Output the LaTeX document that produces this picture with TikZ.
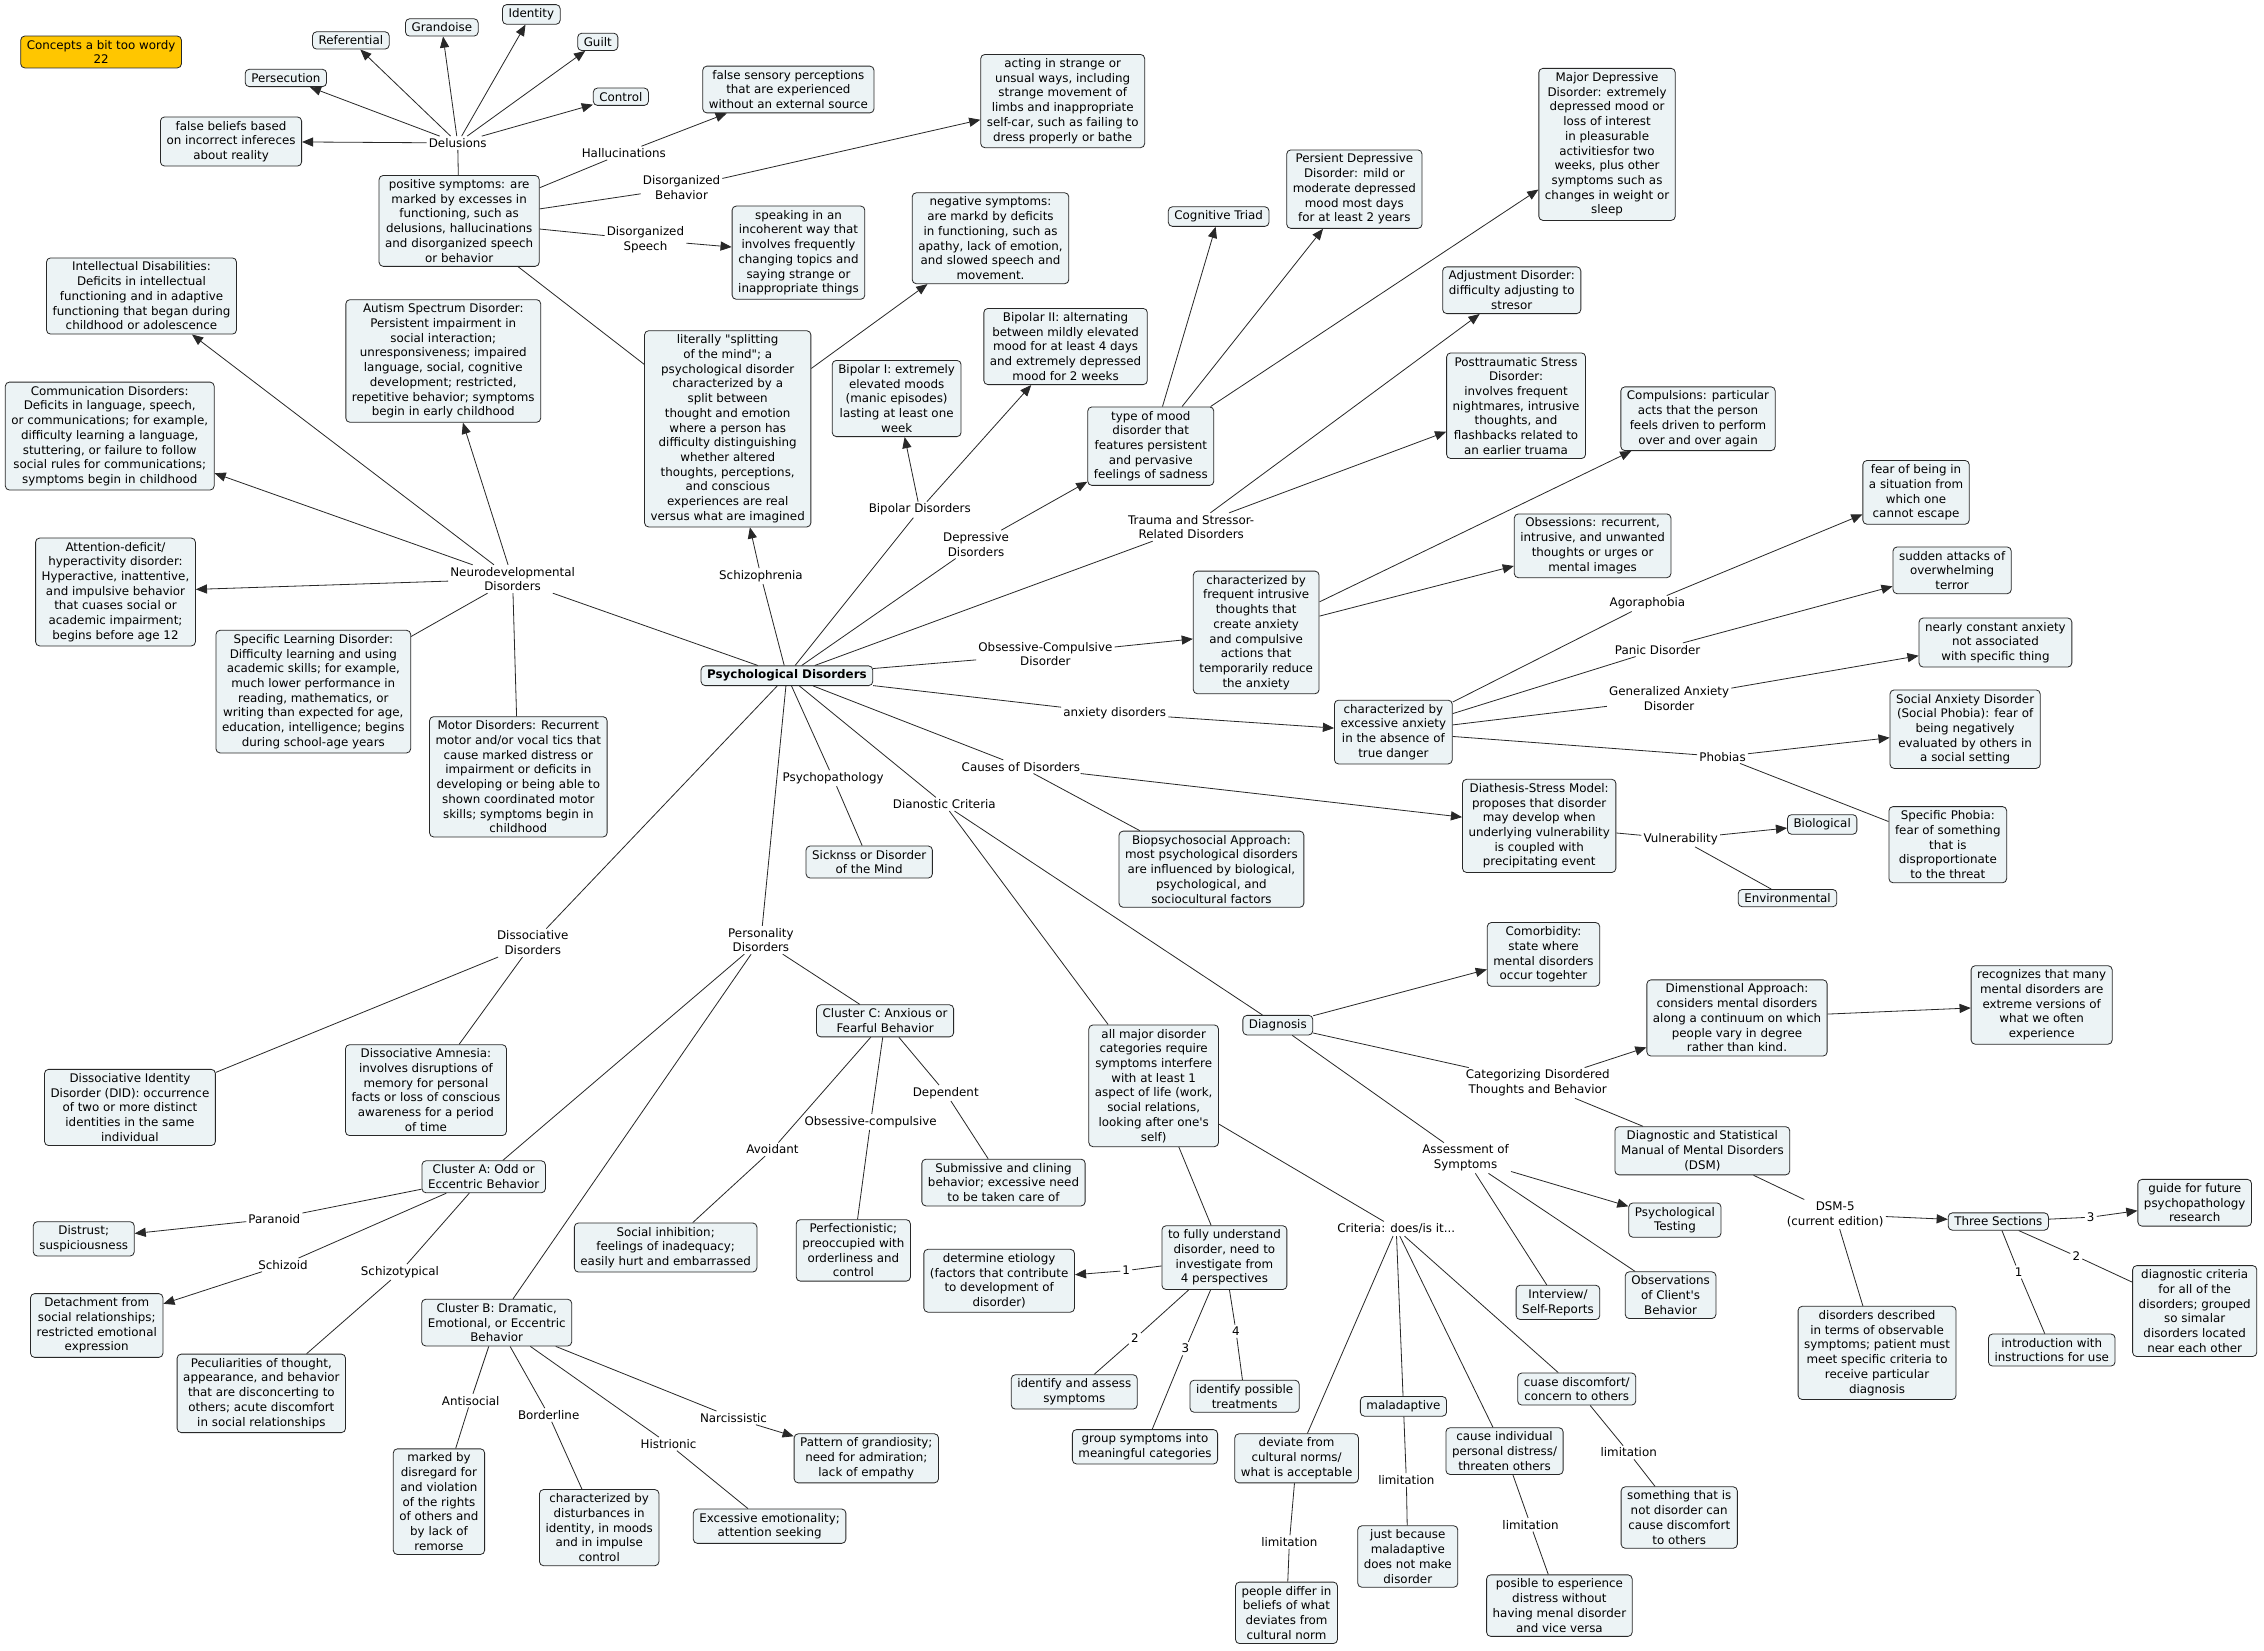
\documentclass[tikz,border=0pt]{standalone}
\usepackage{fontspec}
\setmainfont{DejaVu Sans}
\usepackage{xcolor}
\usetikzlibrary{arrows.meta}
\definecolor{boxfill}{RGB}{236,243,245}
\definecolor{boxline}{RGB}{40,40,40}
\definecolor{notefill}{RGB}{255,198,0}
\newcommand{\mapfont}{\fontsize{11.7}{14.5}\selectfont}
\tikzset{
  concept/.style={draw=boxline, fill=boxfill, rounded corners=4pt, align=center,
    inner xsep=6pt, inner ysep=4pt, line width=0.8pt, font=\mapfont},
  linkword/.style={align=center, inner sep=2pt, font=\mapfont},
  note/.style={concept, fill=notefill},
  conn/.style={draw=boxline, line width=0.8pt},
  arr/.style={conn, -{Triangle[length=11pt,width=9pt]}},
}

\begin{document}
\begin{tikzpicture}[x=0.05cm, y=-0.05cm]
\useasboundingbox (0,0) rectangle (1568,1143);
% Note and delusions
\node[note] (wordy) at (70,36) {Concepts a bit too wordy\\22};
\node[concept] (referential) at (243,28) {Referential};
\node[concept] (grandoise) at (306,19) {Grandoise};
\node[concept] (identity) at (368,10) {Identity};
\node[concept] (guilt) at (414,29) {Guilt};
\node[concept] (persecution) at (198,54) {Persecution};
\node[concept] (control) at (430,67) {Control};
\node[concept] (falsebeliefs) at (160,98) {false beliefs based\\on incorrect infereces\\about reality};
\node[linkword] (delusions) at (317,99) {Delusions};
\node[linkword] (hallucinations) at (432,106) {Hallucinations};
\node[concept] (sensory) at (546,62) {false sensory perceptions\\that are experienced\\without an external source};
\node[linkword] (disbehavior) at (472,130) {Disorganized\\Behavior};
\node[concept] (acting) at (736,70) {acting in strange or\\unsual ways, including\\strange movement of\\limbs and inappropriate\\self-car, such as failing to\\dress properly or bathe};
\node[concept] (positive) at (318,153) {positive symptoms: are\\marked by excesses in\\functioning, such as\\delusions, hallucinations\\and disorganized speech\\or behavior};
\node[linkword] (disspeech) at (447,166) {Disorganized\\Speech};
\node[concept] (speaking) at (553,175) {speaking in an\\incoherent way that\\involves frequently\\changing topics and\\saying strange or\\inappropriate things};
\node[concept] (negative) at (686,165) {negative symptoms:\\are markd by deficits\\in functioning, such as\\apathy, lack of emotion,\\and slowed speech and\\movement.};
% Mood and trauma
\node[concept] (majordep) at (1113,100) {Major Depressive\\Disorder: extremely\\depressed mood or\\loss of interest\\in pleasurable\\activitiesfor two\\weeks, plus other\\symptoms such as\\changes in weight or\\sleep};
\node[concept] (persdep) at (938,131) {Persient Depressive\\Disorder: mild or\\moderate depressed\\mood most days\\for at least 2 years};
\node[concept] (cogtriad) at (844,150) {Cognitive Triad};
\node[concept] (adjustment) at (1047,201) {Adjustment Disorder:\\difficulty adjusting to\\stresor};
\node[concept] (ptsd) at (1050,281) {Posttraumatic Stress\\Disorder:\\involves frequent\\nightmares, intrusive\\thoughts, and\\flashbacks related to\\an earlier truama};
\node[concept] (compulsions) at (1176,290) {Compulsions: particular\\acts that the person\\feels driven to perform\\over and over again};
\node[concept] (bipolarI) at (621,276) {Bipolar I: extremely\\elevated moods\\(manic episodes)\\lasting at least one\\week};
\node[concept] (bipolarII) at (738,240) {Bipolar II: alternating\\between mildly elevated\\mood for at least 4 days\\and extremely depressed\\mood for 2 weeks};
\node[concept] (mooddis) at (797,309) {type of mood\\disorder that\\features persistent\\and pervasive\\feelings of sadness};
\node[concept] (splitting) at (504,297) {literally \textquotedbl splitting\\of the mind\textquotedbl; a\\psychological disorder\\characterized by a\\split between\\thought and emotion\\where a person has\\difficulty distinguishing\\whether altered\\thoughts, perceptions,\\and conscious\\experiences are real\\versus what are imagined};
% Neurodevelopmental
\node[concept] (intellectual) at (98,205) {Intellectual Disabilities:\\Deficits in intellectual\\functioning and in adaptive\\functioning that began during\\childhood or adolescence};
\node[concept] (autism) at (307,250) {Autism Spectrum Disorder:\\Persistent impairment in\\social interaction;\\unresponsiveness; impaired\\language, social, cognitive\\development; restricted,\\repetitive behavior; symptoms\\begin in early childhood};
\node[concept] (communication) at (76,302) {Communication Disorders:\\Deficits in language, speech,\\or communications; for example,\\difficulty learning a language,\\stuttering, or failure to follow\\social rules for communications;\\symptoms begin in childhood};
\node[concept] (adhd) at (80,410) {Attention-deficit/\\hyperactivity disorder:\\Hyperactive, inattentive,\\and impulsive behavior\\that cuases social or\\academic impairment;\\begins before age 12};
\node[concept] (learning) at (217,479) {Specific Learning Disorder:\\Difficulty learning and using\\academic skills; for example,\\much lower performance in\\reading, mathematics, or\\writing than expected for age,\\education, intelligence; begins\\during school-age years};
\node[concept] (motor) at (359,538) {Motor Disorders: Recurrent\\motor and/or vocal tics that\\cause marked distress or\\impairment or deficits in\\developing or being able to\\shown coordinated motor\\skills; symptoms begin in\\childhood};
% Centre
\node[concept, font=\mapfont\bfseries] (psych) at (545,468) {Psychological Disorders};
\node[linkword] (neuro) at (355,401) {Neurodevelopmental\\Disorders};
\node[linkword] (schizophrenia) at (527,399) {Schizophrenia};
\node[linkword] (bipolar) at (637,353) {Bipolar Disorders};
\node[linkword] (depressive) at (676,377) {Depressive\\Disorders};
\node[linkword] (trauma) at (825,365) {Trauma and Stressor-\\Related Disorders};
\node[linkword] (ocd) at (724,453) {Obsessive-Compulsive\\Disorder};
\node[linkword] (anxiety) at (772,494) {anxiety disorders};
\node[linkword] (causes) at (707,531) {Causes of Disorders};
\node[linkword] (psychopathology) at (577,539) {Psychopathology};
\node[linkword] (diagcriteria) at (654,557) {Dianostic Criteria};
\node[linkword] (dissociative) at (369,653) {Dissociative\\Disorders};
\node[linkword] (personality) at (527,651) {Personality\\Disorders};
% Anxiety
\node[concept] (obsessions) at (1103,378) {Obsessions: recurrent,\\intrusive, and unwanted\\thoughts or urges or\\mental images};
\node[concept] (intrusive) at (870,438) {characterized by\\frequent intrusive\\thoughts that\\create anxiety\\and compulsive\\actions that\\temporarily reduce\\the anxiety};
\node[concept] (excessive) at (965,507) {characterized by\\excessive anxiety\\in the absence of\\true danger};
\node[linkword] (agoraphobia) at (1141,418) {Agoraphobia};
\node[linkword] (panic) at (1148,450) {Panic Disorder};
\node[linkword] (gad) at (1156,484) {Generalized Anxiety\\Disorder};
\node[linkword] (phobias) at (1193,524) {Phobias};
\node[concept] (agorabox) at (1327,341) {fear of being in\\a situation from\\which one\\cannot escape};
\node[concept] (panicbox) at (1352,395) {sudden attacks of\\overwhelming\\terror};
\node[concept] (gadbox) at (1382,445) {nearly constant anxiety\\not associated\\with specific thing};
\node[concept] (socialbox) at (1361,505) {Social Anxiety Disorder\\(Social Phobia): fear of\\being negatively\\evaluated by others in\\a social setting};
\node[concept] (specificbox) at (1349,585) {Specific Phobia:\\fear of something\\that is\\disproportionate\\to the threat};
% Causes
\node[concept] (sickness) at (602,597) {Sicknss or Disorder\\of the Mind};
\node[concept] (biopsych) at (839,602) {Biopsychosocial Approach:\\most psychological disorders\\are influenced by biological,\\psychological, and\\sociocultural factors};
\node[concept] (diathesis) at (1066,572) {Diathesis-Stress Model:\\proposes that disorder\\may develop when\\underlying vulnerability\\is coupled with\\precipitating event};
\node[linkword] (vulnerability) at (1164,581) {Vulnerability};
\node[concept] (biological) at (1262,571) {Biological};
\node[concept] (environmental) at (1238,622) {Environmental};
% Diagnosis
\node[concept] (comorbidity) at (1069,661) {Comorbidity:\\state where\\mental disorders\\occur togehter};
\node[concept] (dimensional) at (1203,705) {Dimenstional Approach:\\considers mental disorders\\along a continuum on which\\people vary in degree\\rather than kind.};
\node[concept] (recognizes) at (1414,696) {recognizes that many\\mental disorders are\\extreme versions of\\what we often\\experience};
\node[concept] (diagnosis) at (885,710) {Diagnosis};
\node[linkword] (categorizing) at (1065,750) {Categorizing Disordered\\Thoughts and Behavior};
\node[concept] (dsm) at (1179,797) {Diagnostic and Statistical\\Manual of Mental Disorders\\(DSM)};
\node[linkword] (assessment) at (1015,802) {Assessment of\\Symptoms};
\node[concept] (testing) at (1160,845) {Psychological\\Testing};
\node[concept] (interview) at (1079,902) {Interview/\\Self-Reports};
\node[concept] (observations) at (1157,897) {Observations\\of Client\textquotesingle s\\Behavior};
\node[linkword] (dsmfive) at (1271,841) {DSM-5\\(current edition)};
\node[concept] (sections) at (1384,846) {Three Sections};
\node[concept] (guide) at (1520,833) {guide for future\\psychopathology\\research};
\node[concept] (described) at (1300,937) {disorders described\\in terms of observable\\symptoms; patient must\\meet specific criteria to\\receive particular\\diagnosis};
\node[linkword] (sone) at (1398,881) {1};
\node[linkword] (stwo) at (1438,870) {2};
\node[linkword] (sthree) at (1448,843) {3};
\node[concept] (intro) at (1421,935) {introduction with\\instructions for use};
\node[concept] (diagnosticcrit) at (1520,908) {diagnostic criteria\\for all of the\\disorders; grouped\\so simalar\\disorders located\\near each other};
% Criteria
\node[concept] (allmajor) at (799,752) {all major disorder\\categories require\\symptoms interfere\\with at least 1\\aspect of life (work,\\social relations,\\looking after one\textquotesingle s\\self)};
\node[concept] (fully) at (848,871) {to fully understand\\disorder, need to\\investigate from\\4 perspectives};
\node[concept] (etiology) at (692,887) {determine etiology\\(factors that contribute\\to development of\\disorder)};
\node[linkword] (pone) at (780,880) {1};
\node[linkword] (ptwo) at (786,927) {2};
\node[linkword] (pthree) at (821,934) {3};
\node[linkword] (pfour) at (856,922) {4};
\node[concept] (identify) at (744,964) {identify and assess\\symptoms};
\node[concept] (group) at (793,1002) {group symptoms into\\meaningful categories};
\node[concept] (treatments) at (862,967) {identify possible\\treatments};
\node[linkword] (criteria) at (967,851) {Criteria: does/is it...};
\node[concept] (deviate) at (898,1010) {deviate from\\cultural norms/\\what is acceptable};
\node[concept] (maladaptive) at (972,974) {maladaptive};
\node[concept] (causeind) at (1042,1005) {cause individual\\personal distress/\\threaten others};
\node[concept] (cuase) at (1092,962) {cuase discomfort/\\concern to others};
\node[linkword] (limdev) at (893,1068) {limitation};
\node[linkword] (limmal) at (974,1025) {limitation};
\node[linkword] (limcause) at (1060,1056) {limitation};
\node[linkword] (limcuase) at (1128,1006) {limitation};
\node[concept] (differ) at (891,1117) {people differ in\\beliefs of what\\deviates from\\cultural norm};
\node[concept] (justbecause) at (975,1078) {just because\\maladaptive\\does not make\\disorder};
\node[concept] (posible) at (1080,1112) {posible to esperience\\distress without\\having menal disorder\\and vice versa};
\node[concept] (something) at (1163,1051) {something that is\\not disorder can\\cause discomfort\\to others};
% Dissociative and personality
\node[concept] (did) at (90,767) {Dissociative Identity\\Disorder (DID): occurrence\\of two or more distinct\\identities in the same\\individual};
\node[concept] (amnesia) at (295,755) {Dissociative Amnesia:\\involves disruptions of\\memory for personal\\facts or loss of conscious\\awareness for a period\\of time};
\node[concept] (clusterC) at (613,707) {Cluster C: Anxious or\\Fearful Behavior};
\node[linkword] (dependent) at (655,757) {Dependent};
\node[linkword] (obscomp) at (603,777) {Obsessive-compulsive};
\node[linkword] (avoidant) at (535,796) {Avoidant};
\node[concept] (submissive) at (695,819) {Submissive and clining\\behavior; excessive need\\to be taken care of};
\node[concept] (perfectionistic) at (591,866) {Perfectionistic;\\preoccupied with\\orderliness and\\control};
\node[concept] (inhibition) at (461,864) {Social inhibition;\\feelings of inadequacy;\\easily hurt and embarrassed};
\node[concept] (clusterA) at (335,815) {Cluster A: Odd or\\Eccentric Behavior};
\node[linkword] (paranoid) at (190,844) {Paranoid};
\node[linkword] (schizoid) at (196,876) {Schizoid};
\node[linkword] (schizotypical) at (277,881) {Schizotypical};
\node[concept] (distrust) at (58,858) {Distrust;\\suspiciousness};
\node[concept] (detachment) at (67,918) {Detachment from\\social relationships;\\restricted emotional\\expression};
\node[concept] (peculiarities) at (181,965) {Peculiarities of thought,\\appearance, and behavior\\that are disconcerting to\\others; acute discomfort\\in social relationships};
\node[concept] (clusterB) at (344,916) {Cluster B: Dramatic,\\Emotional, or Eccentric\\Behavior};
\node[linkword] (antisocial) at (326,970) {Antisocial};
\node[linkword] (borderline) at (380,980) {Borderline};
\node[linkword] (histrionic) at (463,1000) {Histrionic};
\node[linkword] (narcissistic) at (508,982) {Narcissistic};
\node[concept] (disregard) at (304,1040) {marked by\\disregard for\\and violation\\of the rights\\of others and\\by lack of\\remorse};
\node[concept] (disturbances) at (415,1058) {characterized by\\disturbances in\\identity, in moods\\and in impulse\\control};
\node[concept] (emotionality) at (533,1057) {Excessive emotionality;\\attention seeking};
\node[concept] (grandiosity) at (600,1010) {Pattern of grandiosity;\\need for admiration;\\lack of empathy};

% Connectors: schizophrenia
\draw[conn] (positive) -- (delusions);
\foreach \t in {persecution,referential,grandoise,identity,guilt,control,falsebeliefs}
  \draw[arr] (delusions) -- (\t);
\draw[conn] (positive) -- (hallucinations);
\draw[arr] (hallucinations) -- (sensory);
\draw[conn] (positive) -- (disbehavior);
\draw[arr] (disbehavior) -- (acting);
\draw[conn] (positive) -- (disspeech);
\draw[arr] (disspeech) -- (speaking);
\draw[conn] (positive) -- (splitting);
\draw[arr] (splitting) -- (negative);
\draw[conn] (psych) -- (schizophrenia);
\draw[arr] (schizophrenia) -- (splitting);
% Connectors: neurodevelopmental
\draw[conn] (psych) -- (neuro);
\foreach \t in {intellectual,autism,communication,adhd}
  \draw[arr] (neuro) -- (\t);
\draw[conn] (neuro) -- (learning);
\draw[conn] (neuro) -- (motor);
% Connectors: mood, trauma
\draw[conn] (psych) -- (bipolar);
\draw[arr] (bipolar) -- (bipolarI);
\draw[arr] (bipolar) -- (bipolarII);
\draw[conn] (psych) -- (depressive);
\draw[arr] (depressive) -- (mooddis);
\draw[arr] (mooddis) -- (cogtriad);
\draw[arr] (mooddis) -- (persdep);
\draw[arr] (mooddis) -- (majordep);
\draw[conn] (psych) -- (trauma);
\draw[arr] (trauma) -- (adjustment);
\draw[arr] (trauma) -- (ptsd);
% Connectors: anxiety
\draw[conn] (psych) -- (ocd);
\draw[arr] (ocd) -- (intrusive);
\draw[arr] (intrusive) -- (obsessions);
\draw[arr] (intrusive) -- (compulsions);
\draw[conn] (psych) -- (anxiety);
\draw[arr] (anxiety) -- (excessive);
\draw[conn] (excessive) -- (agoraphobia);
\draw[arr] (agoraphobia) -- (agorabox);
\draw[conn] (excessive) -- (panic);
\draw[arr] (panic) -- (panicbox);
\draw[conn] (excessive) -- (gad);
\draw[arr] (gad) -- (gadbox);
\draw[conn] (excessive) -- (phobias);
\draw[arr] (phobias) -- (socialbox);
\draw[conn] (phobias) -- (specificbox);
% Connectors: causes
\draw[conn] (psych) -- (causes);
\draw[arr] (causes) -- (diathesis);
\draw[conn] (causes) -- (biopsych);
\draw[conn] (diathesis) -- (vulnerability);
\draw[arr] (vulnerability) -- (biological);
\draw[conn] (vulnerability) -- (environmental);
\draw[conn] (psych) -- (psychopathology);
\draw[conn] (psychopathology) -- (sickness);
% Connectors: diagnosis
\draw[conn] (psych) -- (diagcriteria);
\draw[conn] (diagcriteria) -- (allmajor);
\draw[conn] (diagcriteria) -- (diagnosis);
\draw[arr] (diagnosis) -- (comorbidity);
\draw[conn] (diagnosis) -- (categorizing);
\draw[arr] (categorizing) -- (dimensional);
\draw[arr] (dimensional) -- (recognizes);
\draw[conn] (categorizing) -- (dsm);
\draw[conn] (diagnosis) -- (assessment);
\draw[arr] (assessment) -- (testing);
\draw[conn] (assessment) -- (interview);
\draw[conn] (assessment) -- (observations);
\draw[conn] (dsm) -- (dsmfive);
\draw[arr] (dsmfive) -- (sections);
\draw[conn] (dsmfive) -- (described);
\draw[conn] (sections) -- (sone) -- (intro);
\draw[conn] (sections) -- (stwo) -- (diagnosticcrit);
\draw[conn] (sections) -- (sthree);
\draw[arr] (sthree) -- (guide);
% Connectors: criteria
\draw[conn] (allmajor) -- (fully);
\draw[conn] (allmajor) -- (criteria);
\draw[conn] (fully) -- (pone);
\draw[arr] (pone) -- (etiology);
\draw[conn] (fully) -- (ptwo) -- (identify);
\draw[conn] (fully) -- (pthree) -- (group);
\draw[conn] (fully) -- (pfour) -- (treatments);
\draw[conn] (criteria) -- (deviate);
\draw[conn] (criteria) -- (maladaptive);
\draw[conn] (criteria) -- (causeind);
\draw[conn] (criteria) -- (cuase);
\draw[conn] (deviate) -- (limdev) -- (differ);
\draw[conn] (maladaptive) -- (limmal) -- (justbecause);
\draw[conn] (causeind) -- (limcause) -- (posible);
\draw[conn] (cuase) -- (limcuase) -- (something);
% Connectors: dissociative, personality
\draw[conn] (psych) -- (dissociative);
\draw[conn] (dissociative) -- (did);
\draw[conn] (dissociative) -- (amnesia);
\draw[conn] (psych) -- (personality);
\draw[conn] (personality) -- (clusterC);
\draw[conn] (personality) -- (clusterA);
\draw[conn] (personality) -- (clusterB);
\draw[conn] (clusterC) -- (dependent) -- (submissive);
\draw[conn] (clusterC) -- (obscomp) -- (perfectionistic);
\draw[conn] (clusterC) -- (avoidant) -- (inhibition);
\draw[conn] (clusterA) -- (paranoid);
\draw[arr] (paranoid) -- (distrust);
\draw[conn] (clusterA) -- (schizoid);
\draw[arr] (schizoid) -- (detachment);
\draw[conn] (clusterA) -- (schizotypical) -- (peculiarities);
\draw[conn] (clusterB) -- (antisocial) -- (disregard);
\draw[conn] (clusterB) -- (borderline) -- (disturbances);
\draw[conn] (clusterB) -- (histrionic) -- (emotionality);
\draw[conn] (clusterB) -- (narcissistic);
\draw[arr] (narcissistic) -- (grandiosity);
\end{tikzpicture}
\end{document}
